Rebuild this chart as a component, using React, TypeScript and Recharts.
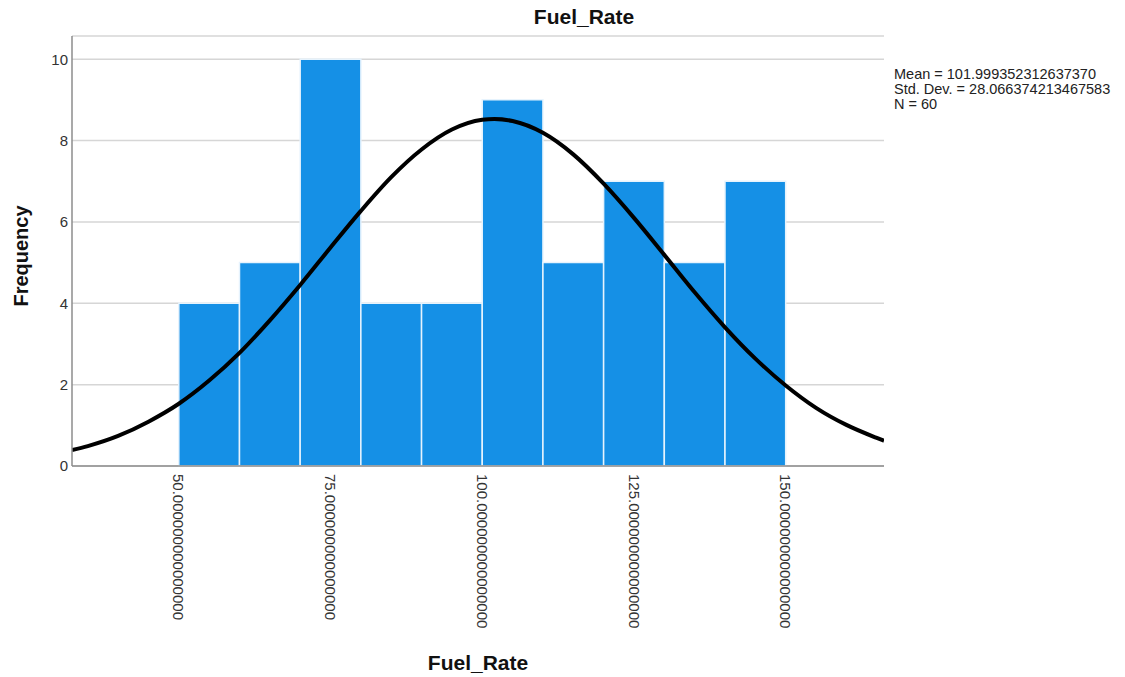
import React from 'react';
import { ComposedChart, Line, XAxis, YAxis, CartesianGrid, ReferenceArea, Label } from 'recharts';

// histogram bins (edges) and frequencies
const binEdges = [50, 60, 70, 80, 90, 100, 110, 120, 130, 140, 150];
const counts = [4, 5, 10, 4, 4, 9, 5, 7, 5, 7];

// fitted normal curve
const curveX = [32.4, 35, 40, 45, 50, 55, 60, 65, 70, 75, 80, 85, 90, 95, 100, 102, 105, 110, 115, 120, 125, 130, 135, 140, 145, 150, 155, 160, 165, 166.2];
const curveY = [0.39, 0.49, 0.74, 1.09, 1.53, 2.1, 2.78, 3.58, 4.45, 5.37, 6.27, 7.1, 7.78, 8.27, 8.51, 8.53, 8.48, 8.19, 7.66, 6.94, 6.1, 5.19, 4.27, 3.41, 2.64, 1.98, 1.43, 1.01, 0.69, 0.62];

const xTicks = [50, 75, 100, 125, 150];
const xTickLabels = ['50.000000000000000', '75.000000000000000', '100.000000000000000', '125.000000000000000', '150.000000000000000'];
const yTicks = [0, 2, 4, 6, 8, 10];

const statLines = ['Mean = 101.999352312637370', 'Std. Dev. = 28.066374213467583', 'N = 60'];

const curveData = curveX.map((x, i) => ({ x, y: curveY[i] }));

const FONT = '"Liberation Sans", Arial, sans-serif';

const XTick = (props: any) => {
  const { x, y, index } = props;
  return (
    <text
      x={x}
      y={y}
      transform={`rotate(90, ${x}, ${y})`}
      dy="0.36em"
      textAnchor="start"
      fontSize={15}
      fontFamily={FONT}
      fill="#333"
    >
      {xTickLabels[index]}
    </text>
  );
};

const YTick = (props: any) => {
  const { y, payload } = props;
  return (
    <text x={68} y={y} dy="0.36em" textAnchor="end" fontSize={15} fontFamily={FONT} fill="#333">
      {payload.value}
    </text>
  );
};

export default function App() {
  return (
    <div style={{ position: 'absolute', left: 0, top: 0, width: 1125, height: 677, background: '#fff', fontFamily: FONT }}>
      <ComposedChart width={1125} height={677} data={curveData} margin={{ top: 36, right: 241, bottom: 0, left: 0 }}>
        <CartesianGrid horizontal vertical={false} stroke="#d6d6d6" strokeWidth={1.5} />
        <XAxis
          dataKey="x"
          type="number"
          domain={[32.4, 166.2]}
          ticks={xTicks}
          allowDataOverflow
          height={211}
          tickLine={false}
          tickSize={6}
          axisLine={{ stroke: '#8c8c8c', strokeWidth: 1.5 }}
          tick={<XTick />}
          interval={0}
        >
          <Label
            content={() => (
              <text x={478} y={670} textAnchor="middle" fontSize={21} fontWeight="bold" fontFamily={FONT} fill="#111">
                Fuel_Rate
              </text>
            )}
          />
        </XAxis>
        <YAxis
          type="number"
          domain={[0, 10.57]}
          ticks={yTicks}
          allowDataOverflow
          width={72}
          tickLine={false}
          axisLine={{ stroke: '#8c8c8c', strokeWidth: 1.5 }}
          tick={<YTick />}
          interval={0}
        >
          <Label
            content={() => (
              <text x={28} y={256} transform="rotate(-90, 28, 256)" textAnchor="middle" fontSize={20} fontWeight="bold" fontFamily={FONT} fill="#111">
                Frequency
              </text>
            )}
          />
        </YAxis>
        {counts.map((c, i) => (
          <ReferenceArea
            key={i}
            x1={binEdges[i]}
            x2={binEdges[i + 1]}
            y1={0}
            y2={c}
            fill="#1590e6"
            fillOpacity={1}
            stroke="#e6f3fd"
            strokeWidth={1.5}
          />
        ))}
        <Line dataKey="y" type="monotone" stroke="#000" strokeWidth={4} dot={false} activeDot={false} isAnimationActive={false} />
      </ComposedChart>
      <div style={{ position: 'absolute', left: 0, top: 5, width: 1168, textAlign: 'center', fontSize: 21, fontWeight: 'bold', color: '#111' }}>
        Fuel_Rate
      </div>
      <div style={{ position: 'absolute', left: 894, top: 67, fontSize: 14.5, lineHeight: '15px', color: '#222', whiteSpace: 'nowrap' }}>
        {statLines.map((s) => (
          <div key={s}>{s}</div>
        ))}
      </div>
    </div>
  );
}
